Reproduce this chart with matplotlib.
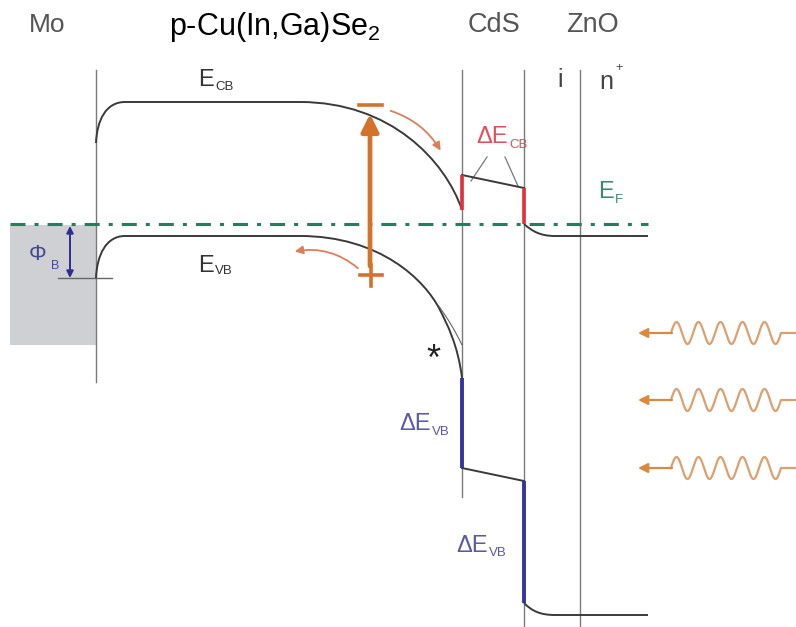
import numpy as np
import matplotlib
matplotlib.use("Agg")
import matplotlib.pyplot as plt
from matplotlib.path import Path
from matplotlib.patches import PathPatch, Rectangle, FancyArrowPatch

plt.rcParams['font.family'] = ['Liberation Sans', 'DejaVu Sans']
plt.rcParams['mathtext.default'] = 'regular'
plt.rcParams['lines.scale_dashes'] = False

# ---- schematic geometry (pixel units of the reference picture) ----
W, H = 796, 627
interface_x = [96, 462, 524, 580]          # Mo|CIGS, CIGS|CdS, CdS|ZnO, i|n+
interface_top = 70
interface_bottom = [382, 497, 627, 627]
fermi_y = 224
fermi_x = [10, 648]
mo_box = [10, 225, 96, 345]                 # x0, y0, x1, y1
mo_level = [58, 112, 278]                   # x0, x1, y

# conduction band (Bezier control points)
cb_verts = [(96, 143), (97, 120), (106, 102), (125, 102), (300, 102),
            (390, 102), (445, 160), (462, 210)]
cb_codes = ['M', 'C', 'C', 'C', 'L', 'C', 'C', 'C']
# valence band
vb_verts = [(96, 278), (97, 255), (106, 236), (125, 236), (300, 236),
            (380, 236), (425, 280), (440, 310),
            (447, 324), (458, 345), (462, 378)]
vb_codes = ['M', 'C', 'C', 'C', 'L', 'C', 'C', 'C', 'C', 'C', 'C']
vb_alt = [(438, 305), (452, 324), (462, 345)]

# CdS / ZnO bands
cds_cb = [(462, 175), (524, 188)]
cb_offsets = [[(462, 210), (462, 175)], [(524, 188), (524, 224)]]
zno_cb = [(524, 224), (532, 231), (540, 236), (555, 236), (648, 236)]
cds_vb = [(462, 468), (524, 481)]
vb_offsets = [[(462, 378), (462, 468)], [(524, 481), (524, 603)]]
zno_vb = [(524, 603), (532, 611), (540, 615), (555, 615), (648, 615)]

photon_y = [333, 400, 468]

# labels with subscripts: (x split, y main, main, y sub, sub, color)
sub_labels = [
    (214, 80, 'E', 87, 'CB', '#333333'),
    (214, 266, 'E', 271, 'VB', '#333333'),
    (508, 137, 'ΔE', 145, 'CB', '#e0505a'),
    (614, 192, 'E', 200, 'F', '#3a8a6a'),
    (431, 424, 'ΔE', 432, 'VB', '#5a5aa0'),
    (488, 546, 'ΔE', 553, 'VB', '#5a5aa0'),
]

def bez(verts, codes):
    cmap = {'M': Path.MOVETO, 'L': Path.LINETO, 'C': Path.CURVE4}
    return Path(verts, [cmap[c] for c in codes])

fig = plt.figure(figsize=(W / 100, H / 100), dpi=100)
ax = fig.add_axes([0, 0, 1, 1])
ax.set_xlim(0, W)
ax.set_ylim(H, 0)
ax.axis('off')

# Mo metal
ax.add_patch(Rectangle((mo_box[0], mo_box[1]), mo_box[2] - mo_box[0],
                       mo_box[3] - mo_box[1], facecolor='#cfd0d3',
                       edgecolor='none', zorder=0))
ax.plot([mo_level[0], mo_level[1]], [mo_level[2]] * 2, color='#666666', lw=1.0)

# interfaces
for x, yb in zip(interface_x, interface_bottom):
    ax.plot([x, x], [interface_top, yb], color='#7a7a7a', lw=1.0, zorder=1)

# Fermi level
ax.plot(fermi_x, [fermi_y] * 2, color='#2a7a5c', lw=2.2,
        dashes=(10.8, 6.5, 2.9, 6.5), zorder=2)

# bands
band_kw = dict(fill=False, edgecolor='#3a3a3a', lw=1.4, zorder=3)
ax.add_patch(PathPatch(bez(cb_verts, cb_codes), **band_kw))
ax.add_patch(PathPatch(bez(vb_verts, vb_codes), **band_kw))
ax.add_patch(PathPatch(Path(vb_alt, [Path.MOVETO, Path.CURVE3, Path.CURVE3]),
                       fill=False, edgecolor='#666666', lw=0.8, zorder=3))
ax.plot(*zip(*cds_cb), color='#3a3a3a', lw=1.4, zorder=3)
ax.add_patch(PathPatch(bez(zno_cb, ['M', 'C', 'C', 'C', 'L']), **band_kw))
ax.plot(*zip(*cds_vb), color='#3a3a3a', lw=1.4, zorder=3)
ax.add_patch(PathPatch(bez(zno_vb, ['M', 'C', 'C', 'C', 'L']), **band_kw))
for seg in cb_offsets:
    ax.plot(*zip(*seg), color='#e0303a', lw=2.6, zorder=4, solid_capstyle='butt')
for seg in vb_offsets:
    ax.plot(*zip(*seg), color='#3535a0', lw=2.8, zorder=4, solid_capstyle='butt')

# Phi_B arrow
ax.annotate('', xy=(70, 226), xytext=(70, 278),
            arrowprops=dict(arrowstyle='<|-|>', color='#2e2e8a', lw=1.4,
                            mutation_scale=10, shrinkA=0, shrinkB=0))
ax.text(38, 255, 'Φ', color='#4a4a90', fontsize=16, ha='center', va='center')
ax.text(55, 266, 'B', color='#4a4a90', fontsize=9, ha='center', va='center')

# photo-excitation arrow
orange = '#d4722c'
ax.annotate('', xy=(370, 114), xytext=(370, 266),
            arrowprops=dict(arrowstyle='-|>', color=orange, lw=3.4,
                            mutation_scale=26, shrinkA=0, shrinkB=0), zorder=5)
ax.plot([359, 382], [105, 105], color=orange, lw=2.6, zorder=5)
ax.plot([360, 382], [275, 275], color=orange, lw=2.6, zorder=5)
ax.plot([371, 371], [265, 286], color=orange, lw=2.6, zorder=5)
ax.add_patch(FancyArrowPatch((388, 110), (442, 153),
                             connectionstyle='arc3,rad=-0.2', arrowstyle='-|>',
                             mutation_scale=12, color='#d9805a', lw=1.3, zorder=5))
ax.add_patch(FancyArrowPatch((360, 270), (292, 252),
                             connectionstyle='arc3,rad=0.25', arrowstyle='-|>',
                             mutation_scale=12, color='#d9805a', lw=1.3, zorder=5))

# photons
for yc in photon_y:
    xs = np.linspace(671, 781, 200)
    ys = yc - 11 * np.sin(2 * np.pi * (xs - 671) / 22)
    ax.plot(np.r_[xs, 796], np.r_[ys, yc], color='#dba070', lw=1.6, zorder=3)
    ax.annotate('', xy=(638, yc), xytext=(672, yc),
                arrowprops=dict(arrowstyle='-|>', color='#d98a40', lw=1.6,
                                mutation_scale=14, shrinkA=0, shrinkB=0))

# labels
gray = '#555555'
ax.text(47, 25, 'Mo', fontsize=19, color=gray, ha='center', va='center')
ax.text(275, 27, r'p-Cu(In,Ga)Se$_2$', fontsize=22, color='black', ha='center', va='center')
ax.text(494, 25, 'CdS', fontsize=19.5, color=gray, ha='center', va='center')
ax.text(592, 25, 'ZnO', fontsize=19.5, color=gray, ha='center', va='center')
ax.text(560, 80, 'i', fontsize=18, color='#444444', ha='center', va='center')
ax.text(606, 82, 'n', fontsize=18, color='#444444', ha='center', va='center')
ax.text(619, 68, '+', fontsize=9, color='#444444', ha='center', va='center')
for xs_, ym, mtxt, ys_, stxt, col in sub_labels:
    ax.text(xs_, ym, mtxt, fontsize=17, color=col, ha='right', va='center')
    ax.text(xs_ + 1, ys_, stxt, fontsize=9.5, color=col, ha='left', va='center')
ax.plot([487, 471], [157, 181], color='#777777', lw=0.9)
ax.plot([505, 518], [157, 186], color='#777777', lw=0.9)
ax.text(433, 360, '*', fontsize=26, color='#222222', ha='center', va='center')

fig.savefig('out.png', dpi=100)
